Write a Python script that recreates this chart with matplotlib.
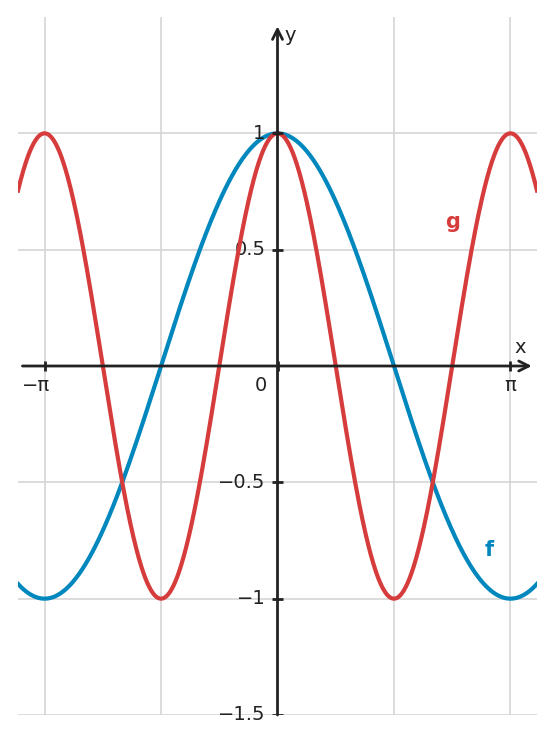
import numpy as np
import matplotlib
matplotlib.use("Agg")
import matplotlib.pyplot as plt

# Data: functions f(x)=cos(x), g(x)=cos(2x) over the visible domain
x_range = [-3.5, 3.5]
y_range = [-1.5, 1.5]
x_ticks = [-np.pi, 0, np.pi]
x_tick_labels = ["\u2212\u03c0", "", "\u03c0"]
x_grid = [-np.pi, -np.pi / 2, np.pi / 2, np.pi]
y_ticks = [1, 0.5, -0.5, -1, -1.5]
y_tick_labels = ["1", "0.5", "\u22120.5", "\u22121", "\u22121.5"]
labels = ["f", "g"]
label_pos = [(2.86, -0.79), (2.36, 0.62)]

xs = np.linspace(x_range[0], x_range[1], 800)
f_vals = np.cos(xs)
g_vals = np.cos(2 * xs)

BLUE = "#0087bd"
RED = "#d63c3c"
AX = "#222222"

fig = plt.figure(figsize=(5.55, 7.44), dpi=100)
ax = fig.add_axes([18 / 555, (744 - 715) / 744, (537 - 18) / 555, (715 - 17) / 744])
ax.set_xlim(*x_range)
ax.set_ylim(*y_range)

for gx in x_grid:
    ax.axvline(gx, color="#d5d5d5", lw=1.2, zorder=0)
for gy in y_ticks:
    ax.axhline(gy, color="#d5d5d5", lw=1.2, zorder=0)

ax.plot(xs, f_vals, color=BLUE, lw=3, zorder=3)
ax.plot(xs, g_vals, color=RED, lw=3, zorder=4)

for side in ["top", "right", "left", "bottom"]:
    ax.spines[side].set_visible(False)

# axes with arrows
ax.annotate("", xy=(3.43, 0), xytext=(-3.44, 0),
            arrowprops=dict(arrowstyle="->", color=AX, lw=2, mutation_scale=18,
                            shrinkA=0, shrinkB=0), zorder=5)
ax.annotate("", xy=(0, 1.46), xytext=(0, -1.5),
            arrowprops=dict(arrowstyle="->", color=AX, lw=2, mutation_scale=18,
                            shrinkA=0, shrinkB=0), zorder=5)

ax.set_xticks([])
ax.set_yticks([])

# tick marks
for tx, tl in zip(x_ticks, x_tick_labels):
    ax.plot([tx, tx], [-0.021, 0.021], color=AX, lw=2, zorder=6, solid_capstyle="butt")
    if tl.startswith("\u2212"):
        ax.text(tx + 0.08, -0.045, tl, ha="right", va="top", fontsize=14, color=AX)
    elif tl:
        ax.text(tx, -0.045, tl, ha="center", va="top", fontsize=14, color=AX)
for ty, tl in zip(y_ticks, y_tick_labels):
    ax.plot([-0.07, 0.07], [ty, ty], color=AX, lw=2, zorder=6, solid_capstyle="butt")
    ax.text(-0.16, ty, tl, ha="right", va="center", fontsize=14, color=AX)

ax.text(-0.14, -0.045, "0", ha="right", va="top", fontsize=14, color=AX)
ax.text(3.27, 0.04, "x", ha="center", va="bottom", fontsize=14, color=AX)
ax.text(0.1, 1.42, "y", ha="left", va="center", fontsize=14, color=AX)

colors = [BLUE, RED]
for lab, (lx, ly), c in zip(labels, label_pos, colors):
    ax.text(lx, ly, lab, ha="center", va="center", fontsize=15, fontweight="bold", color=c)

fig.savefig("out.png", dpi=100)
